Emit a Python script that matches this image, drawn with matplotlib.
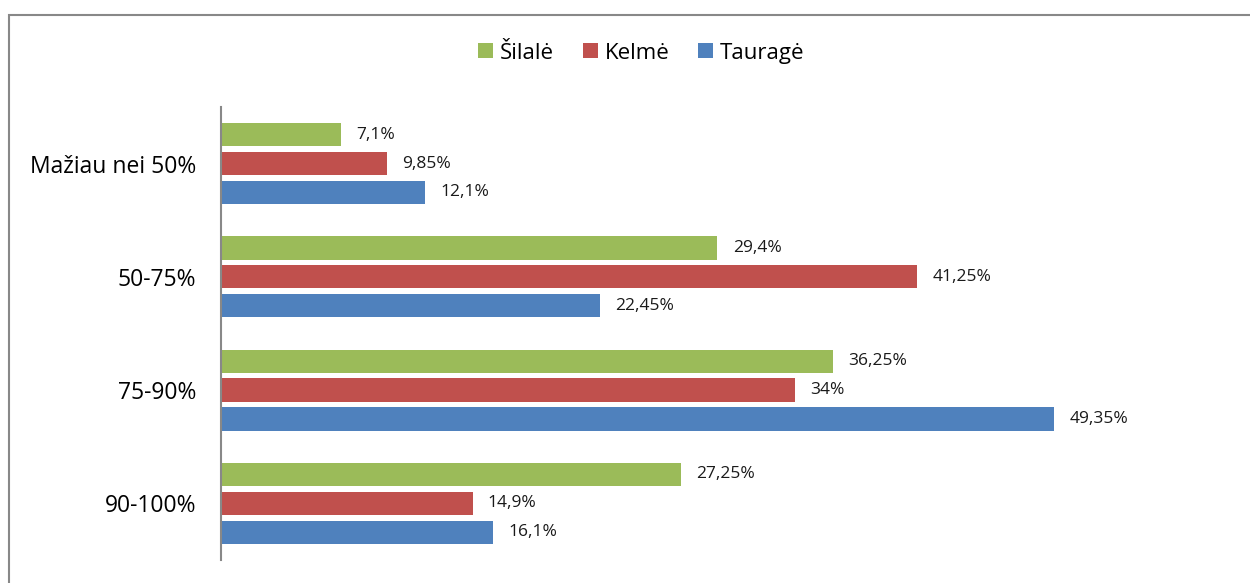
import matplotlib.pyplot as plt
import matplotlib.patches as mpatches
import numpy as np

categories = ['Mažiau nei 50%', '50-75%', '75-90%', '90-100%']
silale = [7.1, 29.4, 36.25, 27.25]
kelme = [9.85, 41.25, 34, 14.9]
taurage = [12.1, 22.45, 49.35, 16.1]
series_names = ['Šilalė', 'Kelmė', 'Tauragė']
colors = ['#9BBB59', '#C0504D', '#4F81BD']

plt.rcParams['font.family'] = ['Open Sans', 'DejaVu Sans']

fig = plt.figure(figsize=(12.5, 5.83), dpi=100)
ax = fig.add_axes([0.1768, 0.0395, 0.8104, 0.777])

y = np.arange(len(categories))
offset = 0.255
height = 0.205

def fmt(v):
    return ('%g' % v).replace('.', ',') + '%'

for i, (vals, name, col) in enumerate(zip([silale, kelme, taurage], series_names, colors)):
    pos = y + (i - 1) * offset
    ax.barh(pos, vals, height=height, color=col, label=name)
    for p, v in zip(pos, vals):
        ax.annotate(fmt(v), (v, p), xytext=(11, 0), textcoords='offset points',
                    va='center', ha='left', fontsize=12.5, color='#1a1a1a')

ax.set_ylim(len(categories) - 0.5, -0.5)
ax.set_xlim(0, 60)
ax.set_yticks(y)
ax.set_yticklabels(categories, fontsize=16.5)
ax.tick_params(axis='y', length=0, pad=18)
ax.set_xticks([])
for s in ['top', 'right', 'bottom']:
    ax.spines[s].set_visible(False)
ax.spines['left'].set_color('#888888')
ax.spines['left'].set_linewidth(1.5)

fig.legend(loc='center', bbox_to_anchor=(0.513, 0.909), ncol=3, frameon=False,
           fontsize=16, handlelength=0.68, handleheight=0.68, handletextpad=0.3,
           columnspacing=1.3)

border = mpatches.Rectangle((0.0072, -0.05), 1.1, 0.975 + 0.05, transform=fig.transFigure,
                            fill=False, edgecolor='#888888', linewidth=1.5)
fig.patches.append(border)

fig.savefig('out.png', dpi=100)
